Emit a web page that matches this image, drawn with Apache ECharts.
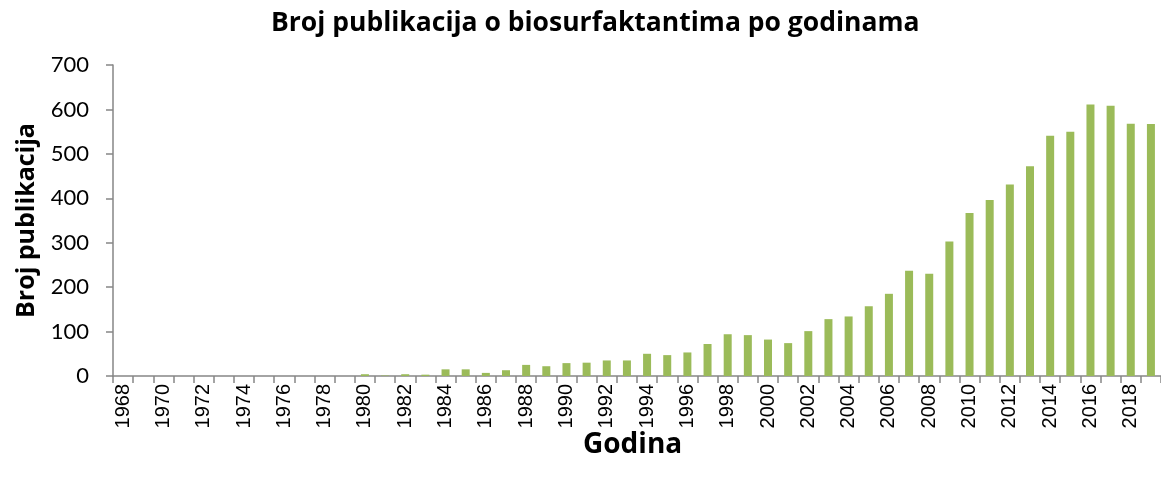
<!DOCTYPE html>
<html>
<head>
<meta charset="utf-8">
<script src="https://cdn.jsdelivr.net/npm/echarts@6/dist/echarts.min.js"></script>
<style>html,body{margin:0;padding:0;background:#fff}#c{width:1161px;height:487px}</style>
</head>
<body>
<div id="c"></div>
<script>
const years = [];
for (let y = 1968; y <= 2019; y++) years.push(String(y));
const publications = [
  0, 0, 0, 0, 0, 0, 0, 0, 0, 0, 0, 0,   // 1968-1979
  4, 1, 4, 3,                           // 1980-1983
  15, 15, 7, 13, 25, 22, 29, 30,        // 1984-1991
  35, 35, 50, 47, 53, 72, 94, 92,       // 1992-1999
  82, 74, 101, 128, 134, 157, 185, 237, // 2000-2007
  230, 303, 367, 396, 431, 472, 541, 550, // 2008-2015
  611, 608, 568, 567                    // 2016-2019
];
const yTicks = { min: 0, max: 700, interval: 100 };

const boldText = { fontFamily: 'Open Sans', fontWeight: 'bold', color: '#000' };
const chart = echarts.init(document.getElementById('c'));
chart.setOption({
  animation: false,
  title: {
    text: 'Broj publikacija o biosurfaktantima po godinama',
    left: 266, top: 5,
    textStyle: Object.assign({ fontSize: 26.5 }, boldText)
  },
  graphic: [{
    type: 'text', left: 583, top: 431,
    style: { text: 'Godina', fontSize: 28, fontWeight: 'bold', fontFamily: 'Open Sans', fill: '#000' }
  }],
  grid: { left: 113, top: 65, height: 311, width: 1057 },
  xAxis: {
    type: 'category',
    data: years,
    axisLine: { lineStyle: { color: '#868686', width: 1.5 } },
    axisTick: { show: true, interval: 0, length: 7, lineStyle: { color: '#868686', width: 1.5 } },
    axisLabel: { interval: 1, rotate: 90, color: '#000', fontSize: 20 }
  },
  yAxis: {
    type: 'value',
    min: yTicks.min, max: yTicks.max, interval: yTicks.interval,
    name: 'Broj publikacija',
    nameLocation: 'middle',
    nameGap: 74,
    nameTextStyle: Object.assign({ fontSize: 25 }, boldText),
    axisLine: { show: true, lineStyle: { color: '#868686', width: 1.5 } },
    axisTick: { show: true, length: 7, lineStyle: { color: '#868686', width: 1.5 } },
    splitLine: { show: false },
    axisLabel: { margin: 24, fontFamily: 'Lato', fontSize: 22, color: '#000' }
  },
  series: [{
    type: 'bar',
    data: publications,
    barWidth: 8,
    itemStyle: { color: '#9BBB59' }
  }]
});
</script>
</body>
</html>
